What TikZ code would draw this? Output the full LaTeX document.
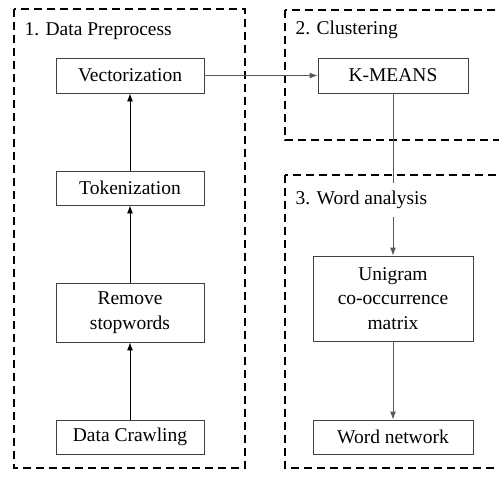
\documentclass[tikz,border=0pt]{standalone}
\usepackage{fontspec}
\setmainfont{Liberation Serif}[Ligatures=TeX]
\usepackage{tikz}
\usetikzlibrary{arrows.meta}
\tikzset{
    stepbox/.style={draw=black!75, line width=0.9pt, align=center, inner sep=2pt}, % 各步骤的方框
    stage/.style={draw=black, line width=1.8pt, dash pattern=on 8pt off 5pt}, % 虚线分区
    title/.style={anchor=west, fill=white, minimum height=34pt}, % 分区标题
    link/.style={-{Latex[length=8pt, width=6pt]}, line width=0.9pt}
}

\begin{document}
\begin{tikzpicture}[x=1pt, y=-1pt, font=\rmfamily\fontsize{19.5}{24.5}\selectfont]
            \clip (0,0) rectangle (499,477);

          % 三个分区
          \draw[stage] (14,9) rectangle (245,468);
          \draw[stage] (285,10) rectangle (520,140);
          \draw[stage] (285,175) rectangle (520,468);

          % 步骤
          \node[stepbox, minimum width=148pt, minimum height=35pt] (vec) at (130,75.5) {Vectorization};
          \node[stepbox, minimum width=148pt, minimum height=34pt] (tok) at (130,188) {Tokenization};
          \node[stepbox, minimum width=148pt, minimum height=59pt] (stop) at (130,312.5) {Remove\\stopwords};
          \node[stepbox, minimum width=148pt, minimum height=34pt] (crawl) at (130,437) {Data Crawling};
          \node[stepbox, minimum width=150pt, minimum height=35pt] (kmeans) at (393,75.5) {K-MEANS};
          \node[stepbox, minimum width=160pt, minimum height=85pt] (unigram) at (393,298.5) {Unigram\\co-occurrence\\matrix};
          \node[stepbox, minimum width=160pt, minimum height=34pt] (net) at (393,437) {Word network};

          \draw[link] (crawl) -- (stop);
          \draw[link] (stop) -- (tok);
          \draw[link] (tok) -- (vec);
          \draw[link, black!65] (vec) -- (kmeans);
          \draw[link, black!65] (kmeans) -- (unigram);
          \draw[link, black!65] (unigram) -- (net);

          \node[anchor=west] (lbl1) at (21,31) {1. Data Preprocess};
          \node[anchor=west] (lbl2) at (292,30) {2. Clustering};
          \node[title] (lbl3) at (292,200) {3. Word analysis};

        \end{tikzpicture}
\end{document}
